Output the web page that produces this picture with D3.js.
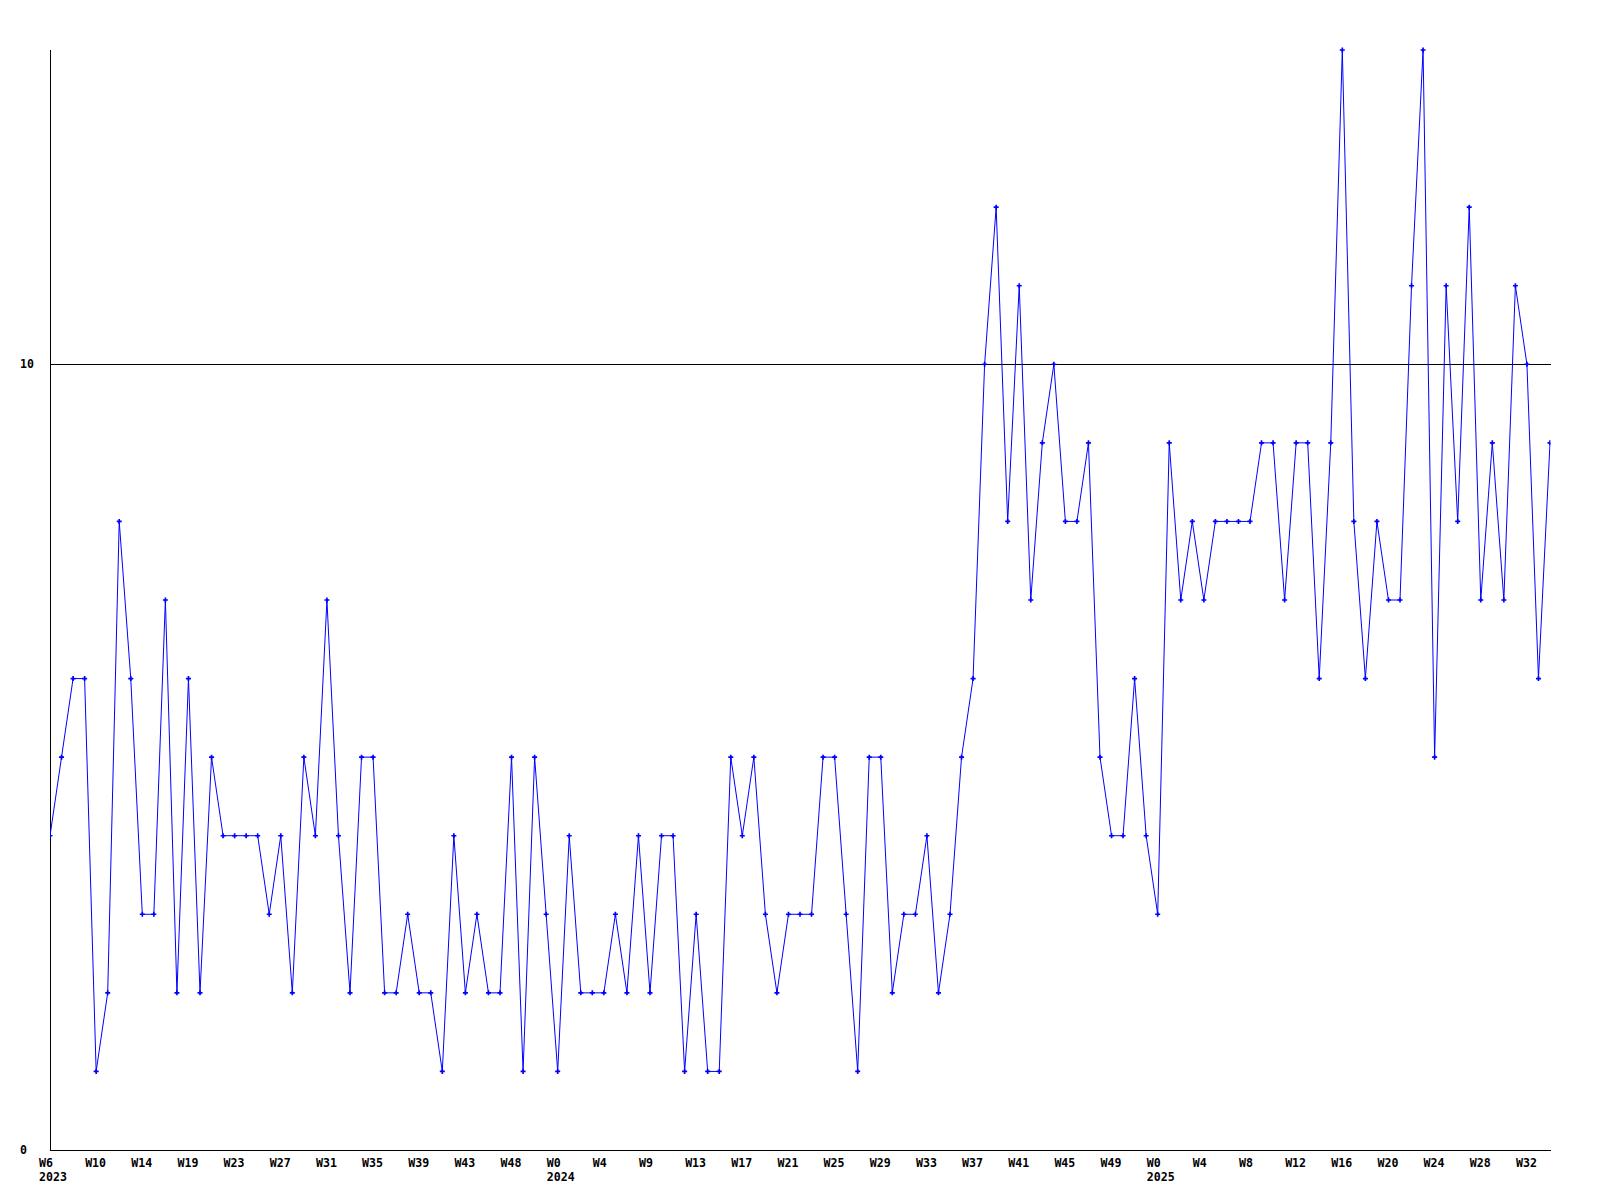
<!DOCTYPE html>
<html>
<head>
<meta charset="utf-8">
<script src="https://cdn.jsdelivr.net/npm/d3@7"></script>
<style>
  html, body { margin: 0; padding: 0; background: #fff; }
  svg { display: block; }
  text { font-family: "DejaVu Sans Mono", monospace; font-weight: bold; font-size: 11.6px; fill: #000; }
</style>
</head>
<body>
<script>
// Weekly values (one per point)
const values = [
  4,5,6,6,1,2,8,6,3,3,7,2,6,2,5,4,4,4,4,3,
  4,2,5,4,7,4,2,5,5,2,2,3,2,2,1,4,2,3,2,2,
  5,1,5,3,1,4,2,2,2,3,2,4,2,4,4,1,3,1,1,5,
  4,5,3,2,3,3,3,5,5,3,1,5,5,2,3,3,4,2,3,5,
  6,10,12,8,11,7,9,10,8,8,9,5,4,4,6,4,3,9,7,8,
  7,8,8,8,8,9,9,7,9,9,6,9,14,8,6,8,7,7,11,14,
  5,11,8,12,7,9,7,11,10,6,9
];
// Tick labels, one every 4th point
const tickLabels = ["W6","W10","W14","W19","W23","W27","W31","W35","W39","W43","W48",
  "W0","W4","W9","W13","W17","W21","W25","W29","W33","W37","W41","W45","W49",
  "W0","W4","W8","W12","W16","W20","W24","W28","W32"];
const tickStep = 4;
// Year labels with the point index they sit under
const yearLabels = [{year: "2023", index: 0}, {year: "2024", index: 44}, {year: "2025", index: 96}];
const yTicks = [0, 10];
const yMax = 14;

const W = 1600, H = 1200;
const mLeft = 50, mRight = 1550, mTop = 50, mBottom = 1150;

const svg = d3.select("body").append("svg").attr("width", W).attr("height", H);

const x = d3.scaleLinear().domain([0, values.length - 1]).range([mLeft, mRight]);
const y = d3.scaleLinear().domain([0, yMax]).range([mBottom, mTop]);

svg.append("defs").append("clipPath").attr("id", "plot")
  .append("rect").attr("x", mLeft).attr("y", 0).attr("width", mRight - mLeft + 0.5).attr("height", mBottom + 1);

// Horizontal grid line at 10
svg.append("g").selectAll("line").data(yTicks.filter(d => d > 0)).join("line")
  .attr("x1", mLeft).attr("x2", mRight + 1)
  .attr("y1", d => Math.round(y(d)) + 0.5).attr("y2", d => Math.round(y(d)) + 0.5)
  .attr("stroke", "#000").attr("stroke-width", 1);

// Axes lines
svg.append("line").attr("x1", mLeft + 0.5).attr("x2", mLeft + 0.5).attr("y1", mTop).attr("y2", mBottom + 1)
  .attr("stroke", "#000");
svg.append("line").attr("x1", mLeft).attr("x2", mRight + 1).attr("y1", mBottom + 0.5).attr("y2", mBottom + 0.5)
  .attr("stroke", "#000");

// Y labels
svg.append("g").selectAll("text").data(yTicks).join("text")
  .attr("x", 20).attr("y", d => Math.round(y(d)) + 4)
  .text(d => d);

// X tick labels
svg.append("g").selectAll("text").data(tickLabels).join("text")
  .attr("x", (d, i) => x(i * tickStep) - 11)
  .attr("y", mBottom + 17)
  .text(d => d);

// Year labels
svg.append("g").selectAll("text").data(yearLabels).join("text")
  .attr("x", d => x(d.index) - 11)
  .attr("y", mBottom + 31)
  .text(d => d.year);

const g = svg.append("g").attr("clip-path", "url(#plot)");

const line = d3.line().x((d, i) => x(i)).y(d => y(d));
g.append("path").datum(values)
  .attr("d", line)
  .attr("fill", "none").attr("stroke", "#0000ff").attr("stroke-width", 1);

// plus markers
const plus = d3.symbol().type(d3.symbolCross).size(14);
g.append("g").selectAll("path").data(values).join("path")
  .attr("transform", (d, i) => `translate(${x(i)},${y(d)})`)
  .attr("d", plus)
  .attr("fill", "#0000ff");
</script>
</body>
</html>
